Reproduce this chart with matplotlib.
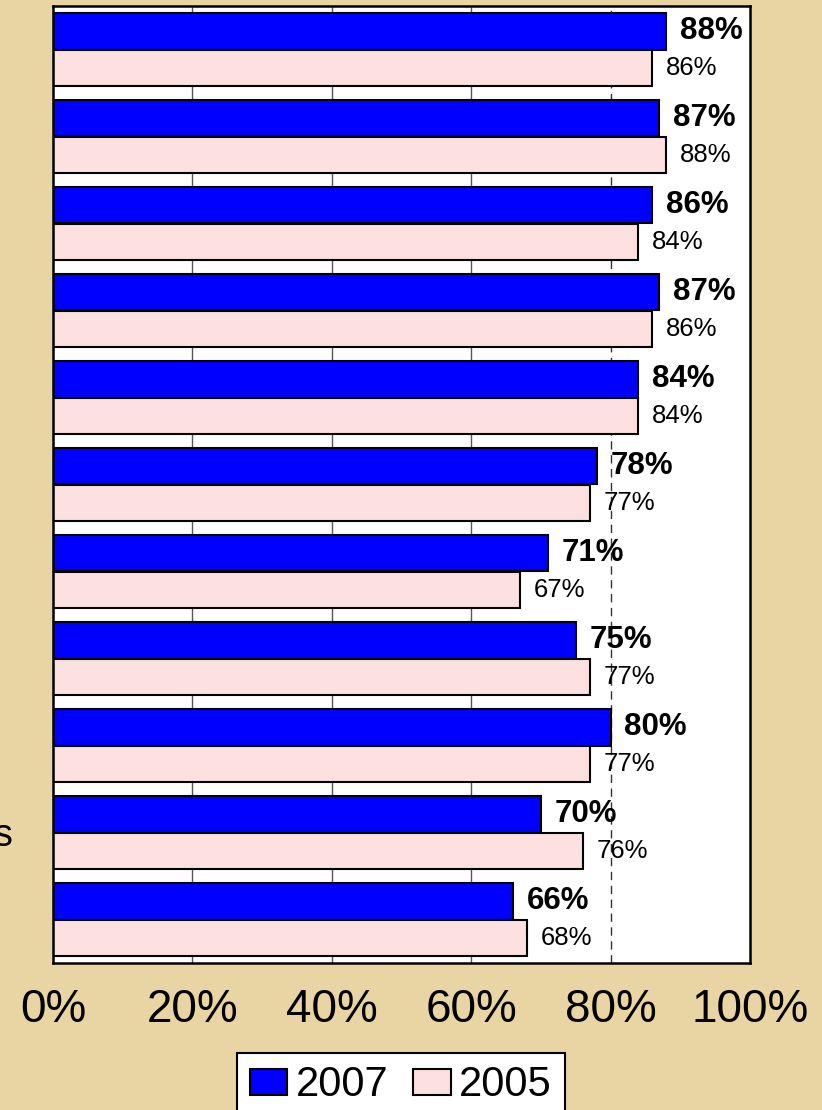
import matplotlib.pyplot as plt
import numpy as np

plt.rcParams['font.family'] = ['Liberation Sans', 'DejaVu Sans']

# values (percent)
cat_labels = ['', '', '', '', '', '', '', '', '', 's', '']
vals_2007 = [88, 87, 86, 87, 84, 78, 71, 75, 80, 70, 66]
vals_2005 = [86, 88, 84, 86, 84, 77, 67, 77, 77, 76, 68]
x_ticks = [0, 20, 40, 60, 80, 100]
x_ticklabels = ['0%', '20%', '40%', '60%', '80%', '100%']

bg = '#E9D4A4'
blue = '#0000FF'
pink = '#FDE0E0'

fig = plt.figure(figsize=(8.22, 11.10), dpi=100, facecolor=bg)
W, H = 822, 1110
ax = fig.add_axes([53 / W, 1 - 963 / H, (750 - 53) / W, (963 - 6) / H])
ax.set_facecolor('white')

y = np.arange(len(vals_2007))
h = 0.425
ax.barh(y - h / 2, vals_2007, height=h, color=blue, edgecolor='black',
        linewidth=1.5, label='2007', zorder=3)
ax.barh(y + h / 2, vals_2005, height=h, color=pink, edgecolor='black',
        linewidth=1.5, label='2005', zorder=3)

# gridlines: solid behind bars, dashed at 80%
for gx in [20, 40, 60]:
    ax.axvline(gx, color='#555555', linewidth=1, zorder=1)
ax.axvline(80, color='#333333', linewidth=1, linestyle=(0, (6, 4)), zorder=1)

for i, (a, b) in enumerate(zip(vals_2007, vals_2005)):
    ax.annotate(f'{a}%', (a, i - h / 2), xytext=(10, 0), textcoords='offset points',
                ha='left', va='center', fontsize=22.5, fontweight='bold', zorder=4)
    ax.annotate(f'{b}%', (b, i + h / 2), xytext=(10, 0), textcoords='offset points',
                ha='left', va='center', fontsize=18.5, zorder=4)

ax.set_xlim(0, 100)
ax.set_ylim(len(vals_2007) - 0.5, -0.5)
ax.set_xticks(x_ticks)
ax.set_xticklabels(x_ticklabels, fontsize=33)
ax.set_yticks(y)
ax.set_yticklabels(cat_labels, fontsize=27)
ax.tick_params(axis='x', length=0, pad=18)
ax.tick_params(axis='y', length=0, pad=29)
for s in ax.spines.values():
    s.set_linewidth(1.8)
    s.set_zorder(5)

fig.legend(loc='upper center', bbox_to_anchor=(401 / W, 1 - 1053 / H), ncol=2,
           fontsize=30, frameon=True, fancybox=False, edgecolor='black',
           framealpha=1, handlelength=0.9, handleheight=0.6, handletextpad=0.2,
           columnspacing=0.6, borderpad=0.3, borderaxespad=0)
fig.legends[0].get_frame().set_linewidth(1.5)

fig.savefig('out.png', dpi=100, facecolor=bg)
